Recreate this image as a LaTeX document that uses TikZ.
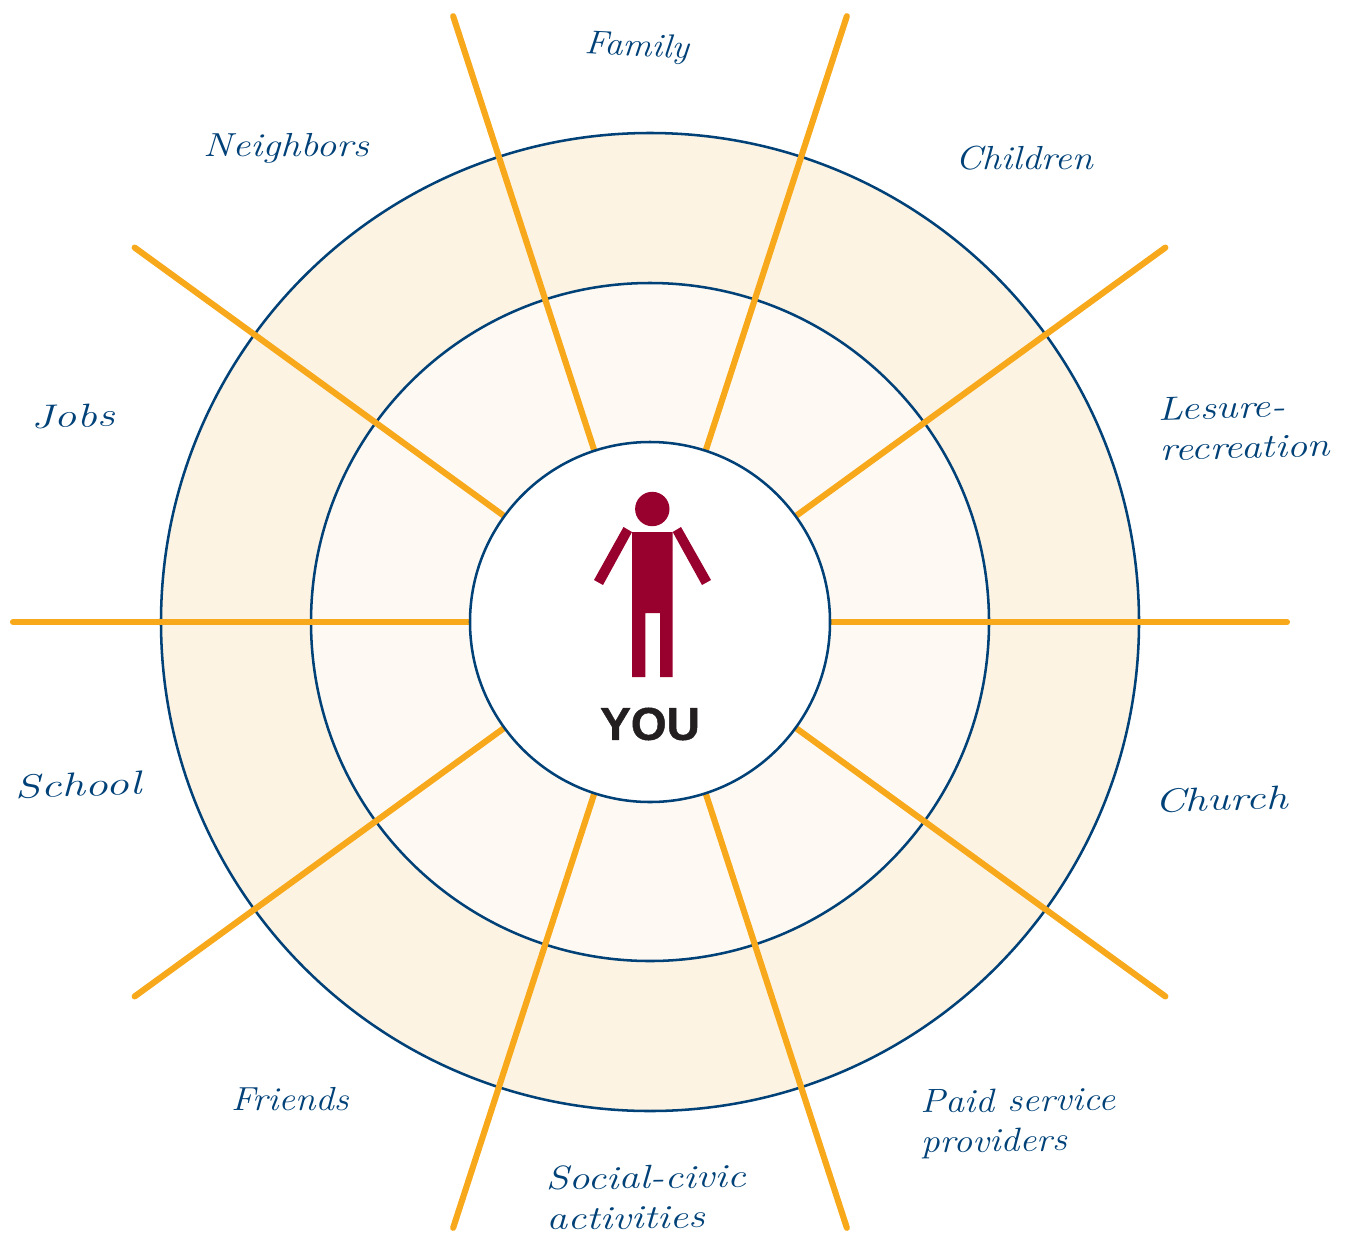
\documentclass[tikz,border=0pt]{standalone}
\usepackage{fontspec}
\setsansfont{Liberation Sans}
\usepackage{tikz}
\usetikzlibrary{positioning}
\definecolor{ringblue}{RGB}{0,65,120}
\definecolor{spokeorange}{RGB}{247,168,27}
\definecolor{outerfill}{RGB}{253,243,226}
\definecolor{innerfill}{RGB}{254,250,243}
\definecolor{figurered}{RGB}{152,0,46}
\definecolor{youblack}{RGB}{35,31,32}
\begin{document}
\begin{tikzpicture}[x=0.75pt,y=-0.75pt]

    \tikzset{ring/.style={circle,draw=ringblue,line width=1.9pt,minimum size=#1*0.75pt,inner sep=0pt}}
    \tikzset{spoke/.style={draw=spokeorange,line width=4.6pt,line cap=round}}
    \tikzset{bodypart/.style={fill=figurered,draw=none}}
    \tikzset{place/.style={text=ringblue,font=\itshape\fontsize{25}{30}\selectfont,align=left,inner sep=0pt,xscale=#1,transform shape}}

    \useasboundingbox (0,0) rectangle (1348,1235);

    \coordinate (hub) at (650,622);
    \node[ring=978,fill=outerfill] (outer) at (hub) {};
    \node[ring=678,fill=innerfill] (middle) at (hub) {};

    % spokes
    \foreach \ang in {0,36,...,324}{
      \coordinate (tip\ang) at ([shift={(\ang:637 and -637)}]hub);
      \coordinate (foot\ang) at ([shift={(\ang:180 and -180)}]hub);
      \path[spoke] (foot\ang) -- (tip\ang);
    }
    \node[ring=360,fill=white] (inner) at (hub) {};

    % person
    \fill[bodypart] (652.3,509) circle (17.2);
    \fill[bodypart] (632,532) -- (672.7,532) -- (672.7,677) -- (660,677) -- (660,613)
      -- (645.3,613) -- (645.3,677) -- (632,677) -- cycle;
    \fill[bodypart] (623.5,527) -- (632,532) -- (603,585) -- (594,580) -- cycle;
    \fill[bodypart] (681,527) -- (672.7,532) -- (702,585) -- (711,580) -- cycle;
    \node[font=\sffamily\bfseries\addfontfeatures{FakeBold=1}\fontsize{34.5}{34.5}\selectfont,text=youblack,inner sep=0pt] (you) at (650,724) {YOU};

    \node[place=1.09,rotate=-3] (family)    at (637,48)   {Family};
    \node[place=1.14,rotate=0]  (children)  at (1024,158) {Children};
    \node[place=1.23,rotate=2]  (leisure)   at (1244,427) {Lesure-\\recreation};
    \node[place=1.31,rotate=2]  (church)    at (1221,799) {Church};
    \node[place=1.13,rotate=1]  (paid)      at (1018,1123) {Paid service\\providers};
    \node[place=1.25,rotate=1]  (social)    at (646,1197) {Social-civic\\activities};
    \node[place=1.11,rotate=0]  (friends)   at (290,1099) {Friends};
    \node[place=1.40,rotate=3]  (school)    at (78,785)   {School};
    \node[place=1.35,rotate=2]  (jobs)      at (73,416)   {Jobs};
    \node[place=1.20,rotate=0]  (neighbors) at (286,148)  {Neighbors};
\end{tikzpicture}
\end{document}
